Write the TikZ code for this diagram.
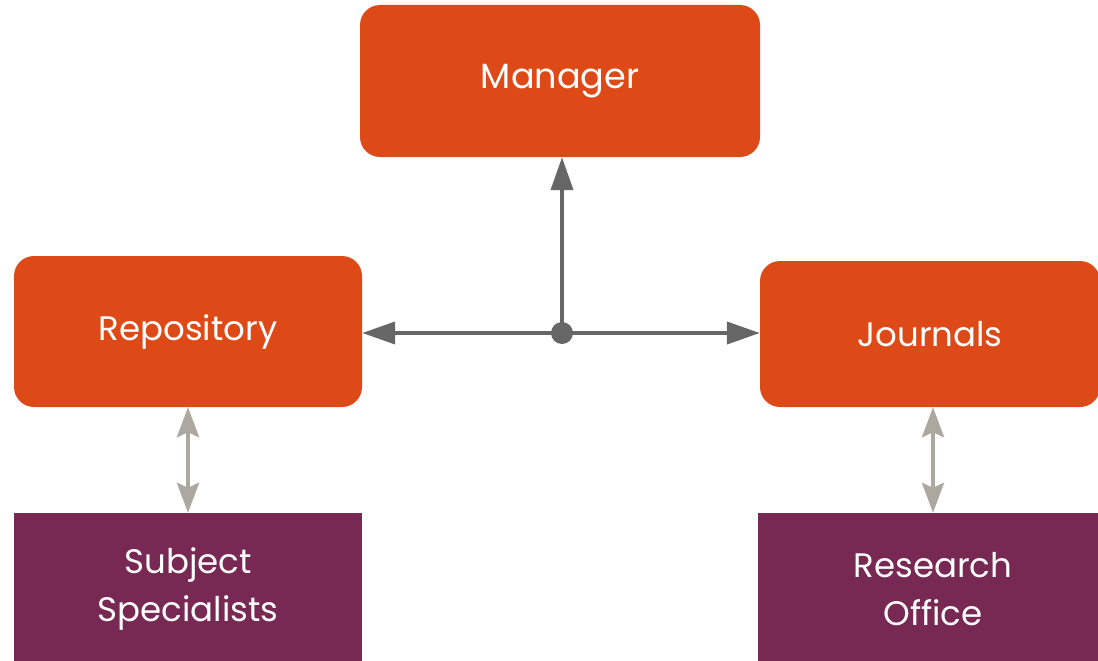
\documentclass[tikz,border=0pt]{standalone}
\usepackage{fontspec}
\setmainfont{Poppins}
\usetikzlibrary{arrows.meta}
\definecolor{boxorange}{HTML}{DD4A17}
\definecolor{boxpurple}{HTML}{772953}
\definecolor{darkarrow}{HTML}{666666}
\definecolor{lightarrow}{HTML}{ADA89F}
\tikzset{
  orangebox/.style={fill=boxorange, rounded corners=20pt, text=white, align=center, inner sep=0pt},
  purplebox/.style={fill=boxpurple, text=white, align=center, inner sep=0pt},
  bigtext/.style={font=\fontsize{35}{46}\selectfont},
  normtext/.style={font=\fontsize{34}{48}\selectfont},
  darkconn/.style={draw=darkarrow, line width=4pt, -{Triangle[length=33pt,width=22pt]}},
  lightconn/.style={draw=lightarrow, line width=4pt, {Stealth[length=30pt,width=22pt,inset=5pt]}-{Stealth[length=30pt,width=22pt,inset=5pt]}},
}
\begin{document}
\begin{tikzpicture}[x=1pt,y=-1pt]
\useasboundingbox (0,0) rectangle (1098,661);
\node[orangebox, bigtext, minimum width=400pt, minimum height=152pt] (manager) at (560,81) {Manager};
\node[orangebox, normtext, minimum width=348pt, minimum height=151pt] (repo) at (188,331.5) {Repository};
\node[orangebox, normtext, minimum width=340pt, minimum height=146pt] (journals) at (930,334) {Journals};
\node[purplebox, normtext, minimum width=348pt, minimum height=152pt] (subject) at (188,589) {Subject\\Specialists};
\node[purplebox, normtext, minimum width=350pt, minimum height=152pt] (research) at (933,589) {Research\\Office};
\coordinate (hub) at (562,333);
\fill[darkarrow] (hub) circle (11pt);
\draw[darkconn] (hub) -- (hub |- manager.south);
\draw[darkconn] (hub) -- (repo.east |- hub);
\draw[darkconn] (hub) -- (journals.west |- hub);
\draw[lightconn] (repo.south) -- (subject.north);
\draw[lightconn] (research.north |- journals.south) -- (research.north);
\end{tikzpicture}
\end{document}
